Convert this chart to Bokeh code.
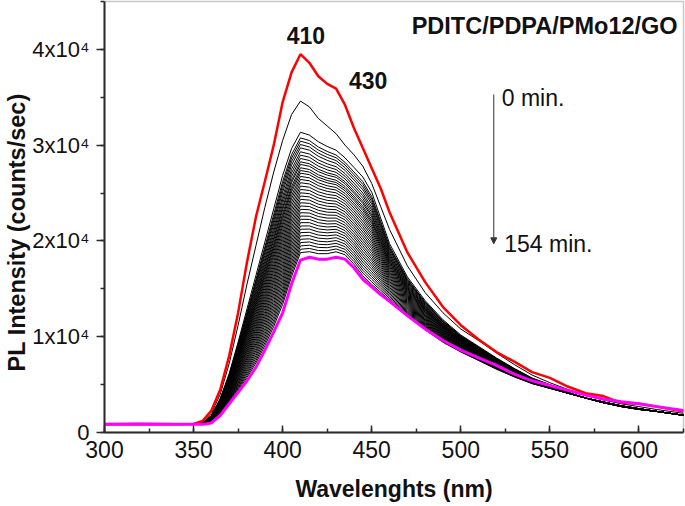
import numpy as np
from bokeh.plotting import figure
from bokeh.models import Label, Arrow, NormalHead, SingleIntervalTicker, Range1d, Title
from bokeh.embed import file_html
from bokeh.resources import INLINE

# ---------------- data (intensities in units of 1e4 counts/sec) ----------------
wavelength = [300, 320, 340, 350, 355, 360, 365, 370, 375, 380, 385, 390, 395, 400,
              405, 410, 415, 420, 425, 430, 435, 440, 445, 450, 455, 460, 470, 480,
              490, 500, 510, 520, 530, 540, 550, 560, 570, 580, 590, 600, 610, 625]

# 0 min spectrum (red)
spec_0min = [0.085, 0.09, 0.085, 0.09, 0.12, 0.23, 0.45, 0.80, 1.25, 1.78, 2.25, 2.62, 3.00, 3.45,
             3.76, 3.95, 3.86, 3.72, 3.64, 3.59, 3.42, 3.18, 2.97, 2.76, 2.55, 2.30, 1.88, 1.57,
             1.31, 1.12, 0.97, 0.84, 0.74, 0.63, 0.57, 0.48, 0.41, 0.38, 0.31, 0.30, 0.27, 0.22]

# first black spectrum after 0 min
spec_first = [0.085, 0.09, 0.085, 0.085, 0.11, 0.20, 0.40, 0.72, 1.12, 1.55, 1.95, 2.35, 2.72, 3.05,
              3.32, 3.46, 3.40, 3.28, 3.20, 3.12, 3.00, 2.90, 2.78, 2.60, 2.36, 2.12, 1.74, 1.46,
              1.25, 1.08, 0.96, 0.83, 0.71, 0.60, 0.52, 0.45, 0.39, 0.34, 0.30, 0.27, 0.24, 0.20]

# upper and lower envelope spectra of the dense black bundle
bundle_top = [0.085, 0.09, 0.085, 0.085, 0.10, 0.18, 0.36, 0.62, 0.95, 1.30, 1.65, 2.00, 2.35, 2.70,
              2.98, 3.15, 3.12, 3.05, 3.00, 2.96, 2.88, 2.78, 2.68, 2.52, 2.25, 1.98, 1.63, 1.38,
              1.18, 1.02, 0.90, 0.78, 0.67, 0.57, 0.50, 0.42, 0.36, 0.31, 0.27, 0.24, 0.22, 0.18]
bundle_bottom = [0.085, 0.09, 0.085, 0.085, 0.085, 0.10, 0.19, 0.31, 0.44, 0.57, 0.72, 0.90, 1.10, 1.33,
                 1.62, 1.87, 1.88, 1.86, 1.86, 1.88, 1.85, 1.75, 1.63, 1.54, 1.46, 1.38, 1.22, 1.07,
                 0.94, 0.84, 0.75, 0.66, 0.58, 0.51, 0.46, 0.41, 0.36, 0.32, 0.28, 0.25, 0.22, 0.18]

# intensity of each bundle spectrum read near 410 nm
bundle_peaks = [3.135, 3.076, 3.042, 3.007, 2.972, 2.931, 2.896, 2.861, 2.826, 2.799, 2.764,
                2.736, 2.708, 2.674, 2.642, 2.608, 2.573, 2.538, 2.503, 2.469, 2.434, 2.399,
                2.365, 2.330, 2.295, 2.260, 2.226, 2.191, 2.156, 2.122, 2.087, 2.052, 2.017,
                1.983, 1.948, 1.913, 1.878]

# 154 min spectrum (magenta)
spec_154min = [0.085, 0.09, 0.085, 0.085, 0.085, 0.10, 0.18, 0.30, 0.42, 0.54, 0.68, 0.86, 1.05, 1.25,
               1.55, 1.80, 1.83, 1.81, 1.81, 1.83, 1.81, 1.72, 1.60, 1.52, 1.44, 1.37, 1.22, 1.08,
               0.96, 0.86, 0.78, 0.70, 0.61, 0.54, 0.49, 0.44, 0.39, 0.35, 0.32, 0.30, 0.27, 0.23]

y_ticks = [0, 10000, 20000, 30000, 40000]
y_tick_labels = ["0", "1x10\u2074", "2x10\u2074", "3x10\u2074", "4x10\u2074"]

SCALE = 1e4
FONT = "Liberation Sans"

p = figure(width=685, height=506, output_backend="svg", toolbar_location=None,
           x_range=Range1d(300, 625), y_range=Range1d(0, 45000),
           min_border_left=104, min_border_right=2, min_border_top=1, min_border_bottom=74)
p.background_fill_color = "white"
p.border_fill_color = "white"
p.outline_line_color = "#c8c8c8"
p.outline_line_width = 1.5
p.grid.visible = False

x = np.array(wavelength, dtype=float)
top = np.array(bundle_top) * SCALE
bot = np.array(bundle_bottom) * SCALE
i410 = wavelength.index(410)
for pk in bundle_peaks:
    w = (pk - bundle_bottom[i410]) / (bundle_top[i410] - bundle_bottom[i410])
    p.line(x, bot + w * (top - bot), line_color="black", line_width=1)

p.line(x, np.array(spec_first) * SCALE, line_color="black", line_width=1)
p.line(x, np.array(spec_0min) * SCALE, line_color="#ff0000", line_width=2.5)
p.line(x, np.array(spec_154min) * SCALE, line_color="#ff00ff", line_width=3)

# axes
p.xaxis.ticker = SingleIntervalTicker(interval=50, num_minor_ticks=2)
p.yaxis.ticker = SingleIntervalTicker(interval=10000, num_minor_ticks=2)
p.yaxis.major_label_overrides = {t: l for t, l in zip(y_ticks, y_tick_labels)}
for ax in (p.xaxis[0], p.yaxis[0]):
    ax.axis_line_width = 2
    ax.axis_line_color = "#2b2b2b"
    ax.major_tick_line_color = "#2b2b2b"
    ax.minor_tick_line_color = "#2b2b2b"
    ax.major_tick_line_width = 1.5
    ax.minor_tick_line_width = 1.5
    ax.major_label_text_font = FONT
    ax.major_label_text_font_size = "23px"
    ax.major_label_text_color = "#111111"
p.yaxis.major_label_text_font_size = "22px"
p.xaxis.major_tick_in = 7
p.xaxis.major_tick_out = 0
p.xaxis.minor_tick_in = 4
p.xaxis.minor_tick_out = 0
p.xaxis.major_label_standoff = 8
p.xaxis.axis_label = "Wavelenghts (nm)"
p.xaxis.axis_label_text_font = FONT
p.xaxis.axis_label_text_font_size = "23px"
p.xaxis.axis_label_text_font_style = "bold"
p.xaxis.axis_label_text_color = "#111111"
p.xaxis.axis_label_standoff = 15
p.yaxis.major_tick_in = 0
p.yaxis.major_tick_out = 8
p.yaxis.minor_tick_in = 0
p.yaxis.minor_tick_out = 4
p.yaxis.major_label_standoff = 7

p.add_layout(Title(text="PL Intensity (counts/sec)", align="left", offset=61, standoff=0,
                   text_font=FONT, text_font_size="23.5px", text_font_style="bold",
                   text_color="#111111"), "left")

# annotations
def lab(xv, yv, txt, bold=False, align="left", size="23px"):
    p.add_layout(Label(x=xv, y=yv, text=txt, text_font=FONT, text_font_size=size,
                       text_font_style="bold" if bold else "normal", text_align=align,
                       text_baseline="middle", text_color="#111111"))

lab(413, 41400, "410", bold=True, align="center")
lab(448, 36700, "430", bold=True, align="center")
lab(621.7, 42400, "PDITC/PDPA/PMo12/GO", bold=True, align="right", size="23.5px")
lab(523, 34900, "0 min.")
lab(524.4, 19700, "154 min.")

p.add_layout(Arrow(end=NormalHead(size=6, fill_color="#333333", line_color="#333333"),
                   x_start=518.5, y_start=35300, x_end=518.5, y_end=19700,
                   line_color="#333333", line_width=1))

open("out.html", "w").write(file_html(p, INLINE))
